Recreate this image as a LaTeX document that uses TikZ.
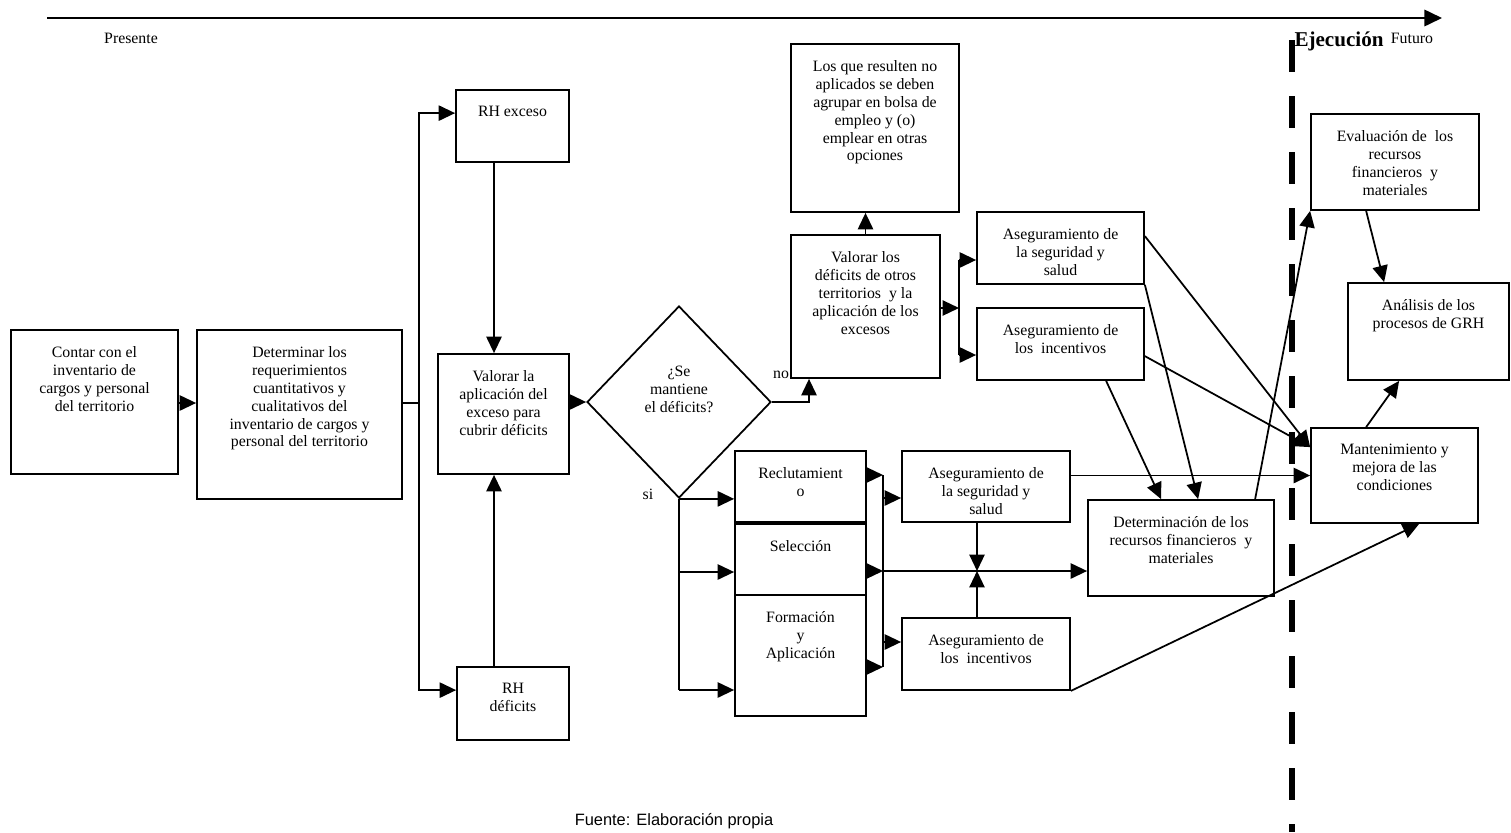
\documentclass[tikz,border=0pt]{standalone}
\usepackage{fontspec}
\setmainfont{Liberation Serif}
\newfontfamily\arialfont{Liberation Sans}
\usetikzlibrary{arrows.meta, positioning, calc, shapes.geometric}
\newcommand{\cajafont}{\fontsize{13.5pt}{15.3pt}\selectfont}

\begin{document}
\begin{tikzpicture}[x=0.03cm, y=-0.03cm,
    caja/.style={draw, line width=1.5pt, inner sep=0pt},
    texto/.style={anchor=north, yshift=-0.51cm, align=center, inner sep=0pt, font=\cajafont},
    flecha/.style={line width=1.5pt, -{Triangle[length=14pt, width=13pt]}},
    linea/.style={line width=1.5pt},
    etiqueta/.style={inner sep=0pt, font=\cajafont}]
  \useasboundingbox (0,0) rectangle (1511,832);

  % linea de tiempo
  \coordinate (tiempoIni) at (47,18);
  \coordinate (tiempoFin) at (1442,18);
  \draw[line width=1.8pt, -{Triangle[length=15pt, width=14pt]}] (tiempoIni) -- (tiempoFin);
  \node[etiqueta] (presente) at (131,38) {Presente};
  \node[etiqueta] (futuro) at (1412,38) {Futuro};

  % frontera de la ejecucion
  \coordinate (ejecSup) at (1292,40);
  \coordinate (ejecInf) at (1292,832);
  \draw[line width=5pt, dash pattern=on 0.96cm off 0.72cm] (ejecSup) -- (ejecInf);
  \node[etiqueta, font=\bfseries\fontsize{18pt}{20pt}\selectfont] (ejecucion) at (1339,41) {Ejecución};

  % inventario y requerimientos
  \node[caja, minimum width=5.01cm, minimum height=4.32cm,
        label={[texto]north:{Contar con el\\inventario de\\cargos y personal\\del territorio}}]
    (contar) at (94.5,402) {};
  \node[caja, minimum width=6.15cm, minimum height=5.07cm,
        label={[texto]north:{Determinar los\\requerimientos\\cuantitativos y\\cualitativos del\\inventario de cargos y\\personal del territorio}}]
    (determinar) at (299.5,414.5) {};

  % excesos y deficits
  \node[caja, minimum width=3.39cm, minimum height=2.16cm,
        label={[texto]north:{RH exceso}}]
    (exceso) at (512.5,126) {};
  \node[caja, minimum width=3.93cm, minimum height=3.6cm,
        label={[texto]north:{Valorar la\\aplicación del\\exceso para\\cubrir déficits}}]
    (valorarla) at (503.5,414) {};
  \node[caja, minimum width=3.36cm, minimum height=2.19cm,
        label={[texto]north:{RH\\déficits}}]
    (deficit) at (513,703.5) {};

  % decision
  \node[caja, diamond, minimum width=5.52cm, minimum height=5.76cm,
        label={[etiqueta, align=center, anchor=center, yshift=0.39cm]center:{¿Se\\mantiene\\el déficits?}}]
    (decision) at (679,402) {};
  \node[etiqueta] (no) at (781,375) {no};
  \node[etiqueta] (si) at (648,494) {si};

  % rama no
  \node[caja, minimum width=4.47cm, minimum height=4.29cm,
        label={[texto]north:{Valorar los\\déficits de otros\\territorios\ \ y la\\aplicación de los\\excesos}}]
    (valorarlos) at (865.5,306.5) {};
  \node[caja, minimum width=5.04cm, minimum height=5.04cm,
        label={[texto]north:{Los que resulten no\\aplicados se deben\\agrupar en bolsa de\\empleo y (o)\\emplear en otras\\opciones}}]
    (losque) at (875,128) {};
  \node[caja, minimum width=5.01cm, minimum height=2.16cm,
        label={[texto]north:{Aseguramiento de\\la seguridad y\\salud}}]
    (segA) at (1060.5,248) {};
  \node[caja, minimum width=5.01cm, minimum height=2.16cm,
        label={[texto]north:{Aseguramiento de\\los\ \ incentivos}}]
    (incA) at (1060.5,344) {};

  % rama si
  \node[caja, minimum width=3.93cm, minimum height=2.13cm,
        label={[texto]north:{Reclutamient\\o}}]
    (recl) at (800.5,486.5) {};
  \node[caja, minimum width=3.93cm, minimum height=2.13cm,
        label={[texto]north:{Selección}}]
    (selec) at (800.5,559.5) {};
  \node[caja, minimum width=3.93cm, minimum height=3.63cm,
        label={[texto]north:{Formación\\y\\Aplicación}}]
    (forma) at (800.5,655.5) {};
  \node[caja, minimum width=5.04cm, minimum height=2.13cm,
        label={[texto]north:{Aseguramiento de\\la seguridad y\\salud}}]
    (segB) at (986,486.5) {};
  \node[caja, minimum width=5.04cm, minimum height=2.16cm,
        label={[texto]north:{Aseguramiento de\\los\ \ incentivos}}]
    (incB) at (986,654) {};
  \node[caja, minimum width=5.58cm, minimum height=2.88cm,
        label={[texto]north:{Determinación de los\\recursos financieros\ \ y\\materiales}}]
    (determ) at (1181,548) {};

  % ejecucion
  \node[caja, minimum width=5.04cm, minimum height=2.88cm,
        label={[texto]north:{Evaluación de\ \ los\\recursos\\financieros\ \ y\\materiales}}]
    (evalua) at (1395,162) {};
  \node[caja, minimum width=4.83cm, minimum height=2.91cm,
        label={[texto]north:{Análisis de los\\procesos de GRH}}]
    (analisis) at (1428.5,331.5) {};
  \node[caja, minimum width=5.01cm, minimum height=2.85cm,
        label={[texto]north:{Mantenimiento y\\mejora de las\\condiciones}}]
    (manten) at (1394.5,475.5) {};

  % conexiones de la planificacion
  \coordinate (nudo1) at (419,403);
  \coordinate (ejeRH) at (494,0);
  \draw[flecha] (contar.east |- nudo1) -- (determinar.west |- nudo1);
  \draw[linea] (determinar.east |- nudo1) -- (nudo1);
  \draw[flecha] (nudo1) |- ($(exceso.north west)+(0,24)$);
  \draw[flecha] (nudo1) |- ($(deficit.north west)+(0,24)$);
  \draw[flecha] (exceso.south -| ejeRH) -- (valorarla.north -| ejeRH);
  \draw[flecha] (deficit.north -| ejeRH) -- (valorarla.south -| ejeRH);
  \draw[flecha] (valorarla.east |- decision.west) -- (decision.west);

  % rama no
  \coordinate (ejeNo) at (809,0);
  \draw[flecha] (decision.east) -| (valorarlos.south -| ejeNo);
  \draw[flecha] (valorarlos.north) -- (valorarlos.north |- losque.south);
  \coordinate (nudo3a) at (959,260);
  \coordinate (nudo3m) at (959,308);
  \coordinate (nudo3b) at (959,355);
  \draw[linea] (nudo3a) -- (nudo3b);
  \draw[flecha] (valorarlos.east |- nudo3m) -- (nudo3m);
  \draw[flecha] (nudo3a) -- (segA.west |- nudo3a);
  \draw[flecha] (nudo3b) -- (incA.west |- nudo3b);

  % rama si
  \coordinate (siBajo) at (679,690);
  \coordinate (siSel) at (679,572);
  \draw[linea] (decision.south) -- (siBajo);
  \draw[flecha] (decision.south) -- (recl.west |- decision.south);
  \draw[flecha] (siSel) -- (selec.west |- siSel);
  \draw[flecha] (siBajo) -- (forma.west |- siBajo);
  \coordinate (nudo2a) at (883,475);
  \coordinate (nudo2b) at (883,571);
  \coordinate (nudo2c) at (883,667);
  \coordinate (nudo2s) at (883,498);
  \coordinate (nudo2i) at (883,642);
  \draw[linea] (nudo2a) -- (nudo2c);
  \draw[flecha] (recl.east |- nudo2a) -- (nudo2a);
  \draw[flecha] (selec.east |- nudo2b) -- (nudo2b);
  \draw[flecha] (forma.east |- nudo2c) -- (nudo2c);
  \draw[flecha] (nudo2s) -- (segB.west |- nudo2s);
  \draw[flecha] (nudo2i) -- (incB.west |- nudo2i);
  \draw[flecha] (nudo2b) -- (determ.west |- nudo2b);
  \coordinate (cruce) at (977,571);
  \draw[flecha] (segB.south -| cruce) -- (cruce);
  \draw[flecha] (incB.north -| cruce) -- (cruce);

  % hacia la ejecucion
  \draw[flecha] (manten.west -| segB.east) -- (manten.west);
  \draw[flecha] (incB.south east) -- ($(manten.south west)+(109,0)$);
  \draw[flecha] ($(segA.north east)+(0,25)$) -- ($(manten.north west)+(0,20)$);
  \draw[flecha] ($(incA.north east)+(0,49)$) -- ($(manten.north west)+(0,20)$);
  \draw[flecha] (segA.south east) -- ($(determ.north west)+(111,0)$);
  \draw[flecha] ($(incA.south west)+(130,0)$) -- ($(determ.north west)+(74,0)$);
  \draw[flecha] ($(determ.north west)+(168,0)$) -- (evalua.south west);
  \draw[flecha] ($(evalua.south west)+(56,0)$) -- ($(analisis.north west)+(37,0)$);
  \draw[flecha] ($(manten.north west)+(56,0)$) -- ($(analisis.south west)+(52,0)$);

  % fuente
  \node[inner sep=0pt, font=\arialfont\fontsize{14pt}{16pt}\selectfont] (fuente) at (674,821) {Fuente: Elaboración propia};
\end{tikzpicture}
\end{document}
